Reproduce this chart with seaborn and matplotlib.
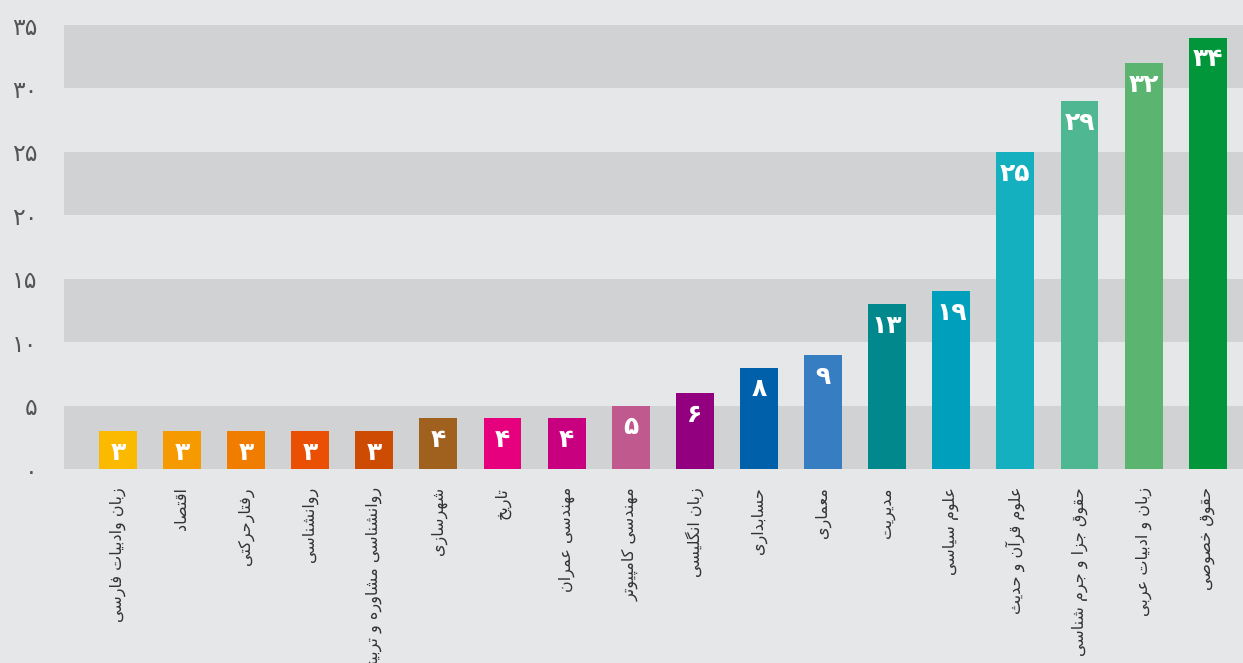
import matplotlib
matplotlib.use("Agg")
import matplotlib.pyplot as plt
import pandas as pd
import seaborn as sns

# data
fields = ['زبان وادبیات فارسی', 'اقتصاد', 'رفتارحرکتی', 'روانشناسی',
          'روانشناسی مشاوره و تربیتی', 'شهرسازی', 'تاریخ', 'مهندسی عمران',
          'مهندسی کامپیوتر', 'زبان انگلیسی', 'حسابداری', 'معماری', 'مدیریت',
          'علوم سیاسی', 'علوم قرآن و حدیث', 'حقوق جزا و جرم شناسی',
          'زبان و ادبیات عربی', 'حقوق خصوصی']
counts = [3, 3, 3, 3, 3, 4, 4, 4, 5, 6, 8, 9, 13, 14, 25, 29, 32, 34]
# labels as printed on the bars (the 14 bar is labelled 19 in the original)
bar_labels = ['۳', '۳', '۳', '۳', '۳', '۴', '۴', '۴', '۵', '۶', '۸', '۹',
              '۱۳', '۱۹', '۲۵', '۲۹', '۳۲', '۳۴']
bar_colors = ['#fbb900', '#f59a00', '#f07d00', '#ea5004', '#ce4b03', '#a0611f',
              '#e6007e', '#c8007f', '#c05a8e', '#92007f', '#0061aa', '#377dc1',
              '#00888c', '#00a0bc', '#15b0bf', '#4fb791', '#5bb46f', '#009639']
y_ticks = [0, 5, 10, 15, 20, 25, 30, 35]
y_tick_labels = ['۰', '۵', '۱۰', '۱۵', '۲۰', '۲۵', '۳۰', '۳۵']

# (isolated, final, initial, medial) presentation forms
FORMS = {
    'ا': ('\uFE8D', '\uFE8E', None, None), 'آ': ('\uFE81', '\uFE82', None, None),
    'ب': ('\uFE8F', '\uFE90', '\uFE91', '\uFE92'), 'پ': ('\uFB56', '\uFB57', '\uFB58', '\uFB59'),
    'ت': ('\uFE95', '\uFE96', '\uFE97', '\uFE98'), 'ث': ('\uFE99', '\uFE9A', '\uFE9B', '\uFE9C'),
    'ج': ('\uFE9D', '\uFE9E', '\uFE9F', '\uFEA0'), 'چ': ('\uFB7A', '\uFB7B', '\uFB7C', '\uFB7D'),
    'ح': ('\uFEA1', '\uFEA2', '\uFEA3', '\uFEA4'), 'خ': ('\uFEA5', '\uFEA6', '\uFEA7', '\uFEA8'),
    'د': ('\uFEA9', '\uFEAA', None, None), 'ذ': ('\uFEAB', '\uFEAC', None, None),
    'ر': ('\uFEAD', '\uFEAE', None, None), 'ز': ('\uFEAF', '\uFEB0', None, None),
    'ژ': ('\uFB8A', '\uFB8B', None, None),
    'س': ('\uFEB1', '\uFEB2', '\uFEB3', '\uFEB4'), 'ش': ('\uFEB5', '\uFEB6', '\uFEB7', '\uFEB8'),
    'ص': ('\uFEB9', '\uFEBA', '\uFEBB', '\uFEBC'), 'ض': ('\uFEBD', '\uFEBE', '\uFEBF', '\uFEC0'),
    'ط': ('\uFEC1', '\uFEC2', '\uFEC3', '\uFEC4'), 'ظ': ('\uFEC5', '\uFEC6', '\uFEC7', '\uFEC8'),
    'ع': ('\uFEC9', '\uFECA', '\uFECB', '\uFECC'), 'غ': ('\uFECD', '\uFECE', '\uFECF', '\uFED0'),
    'ف': ('\uFED1', '\uFED2', '\uFED3', '\uFED4'), 'ق': ('\uFED5', '\uFED6', '\uFED7', '\uFED8'),
    'ک': ('\uFB8E', '\uFB8F', '\uFB90', '\uFB91'), 'گ': ('\uFB92', '\uFB93', '\uFB94', '\uFB95'),
    'ل': ('\uFEDD', '\uFEDE', '\uFEDF', '\uFEE0'), 'م': ('\uFEE1', '\uFEE2', '\uFEE3', '\uFEE4'),
    'ن': ('\uFEE5', '\uFEE6', '\uFEE7', '\uFEE8'), 'ه': ('\uFEE9', '\uFEEA', '\uFEEB', '\uFEEC'),
    'و': ('\uFEED', '\uFEEE', None, None), 'ی': ('\uFBFC', '\uFBFD', '\uFBFE', '\uFBFF'),
}


def shape(text):
    # join letters by hand and flip to visual order, matplotlib has no bidi
    out = []
    for i, ch in enumerate(text):
        f = FORMS.get(ch)
        if f is None:
            out.append(ch)
            continue
        prev = FORMS.get(text[i - 1]) if i > 0 else None
        nxt = FORMS.get(text[i + 1]) if i + 1 < len(text) else None
        join_prev = prev is not None and prev[2] is not None
        join_next = nxt is not None and f[2] is not None
        if join_prev and join_next:
            out.append(f[3])
        elif join_prev:
            out.append(f[1])
        elif join_next:
            out.append(f[2])
        else:
            out.append(f[0])
    return ''.join(out)[::-1]


sns.set_theme(style='white')
plt.rcParams['font.family'] = ['DejaVu Sans']

bg = '#e6e7e9'
band = '#d1d2d4'

df = pd.DataFrame({'field': fields, 'count': counts})

fig = plt.figure(figsize=(12.43, 6.63), dpi=100, facecolor=bg)
ax = fig.add_axes([64 / 1243, 194 / 663, 1 - 64 / 1243, 444 / 663])
ax.set_facecolor(bg)

for lo in range(0, 35, 10):
    ax.axhspan(lo, lo + 5, color=band, lw=0, zorder=0)

sns.barplot(data=df, x='field', y='count', hue='field', palette=bar_colors,
            legend=False, width=0.59, saturation=1, linewidth=0,
            edgecolor='none', ax=ax, zorder=2)

for i, (v, lab) in enumerate(zip(counts, bar_labels)):
    ax.annotate(lab, xy=(i, v), xytext=(0, -7), textcoords='offset points',
                ha='center', va='top', color='white', fontsize=18,
                fontweight='bold', zorder=3)

ax.set_xlim(-0.84, 17.55)
ax.set_ylim(0, 35)
ax.set_yticks(y_ticks)
ax.set_yticklabels(y_tick_labels, fontsize=17, color='#555555')
ax.set_xticks(range(len(fields)))
ax.set_xticklabels([shape(f) for f in fields], rotation=90, va='top',
                   ha='center', fontsize=11.5, color='#333333')
ax.tick_params(axis='x', length=0, pad=13)
ax.tick_params(axis='y', length=0, pad=19)
ax.set_xlabel('')
ax.set_ylabel('')
for s in ax.spines.values():
    s.set_visible(False)

fig.savefig('out.png', dpi=100, facecolor=bg)
